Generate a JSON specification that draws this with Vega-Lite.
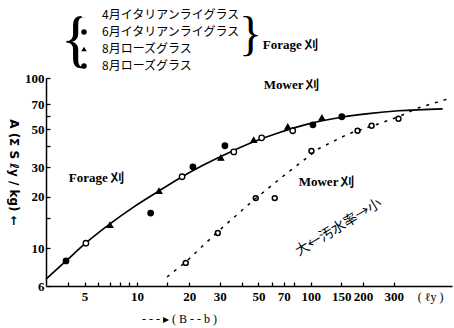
{
  "$schema": "https://vega.github.io/schema/vega-lite/v6.json",
  "width": 406,
  "height": 208,
  "autosize": {"type": "none"},
  "padding": {"left": 46, "top": 78, "right": 2, "bottom": 42},
  "background": "white",
  "config": {"view": {"stroke": null}},
  "datasets": {
    "points": [
      {"x": 3.91, "y": 8.42, "series": "6月イタリアンライグラス", "cut": "Forage"},
      {"x": 5.09, "y": 10.7, "series": "4月イタリアンライグラス", "cut": "Forage"},
      {"x": 7.0, "y": 13.7, "series": "8月ローズグラス", "cut": "Forage"},
      {"x": 12.0, "y": 16.1, "series": "6月イタリアンライグラス", "cut": "Forage"},
      {"x": 13.4, "y": 21.7, "series": "8月ローズグラス", "cut": "Forage"},
      {"x": 18.2, "y": 26.3, "series": "4月イタリアンライグラス", "cut": "Forage"},
      {"x": 21.0, "y": 30.1, "series": "6月イタリアンライグラス", "cut": "Forage"},
      {"x": 30.4, "y": 34.0, "series": "8月ローズグラス", "cut": "Forage"},
      {"x": 32.1, "y": 40.0, "series": "6月イタリアンライグラス", "cut": "Forage"},
      {"x": 36.1, "y": 36.8, "series": "4月イタリアンライグラス", "cut": "Forage"},
      {"x": 47.0, "y": 43.3, "series": "8月ローズグラス", "cut": "Forage"},
      {"x": 52.2, "y": 44.5, "series": "4月イタリアンライグラス", "cut": "Forage"},
      {"x": 73.8, "y": 51.7, "series": "8月ローズグラス", "cut": "Forage"},
      {"x": 78.8, "y": 49.0, "series": "4月イタリアンライグラス", "cut": "Forage"},
      {"x": 103, "y": 53.1, "series": "6月イタリアンライグラス", "cut": "Forage"},
      {"x": 116, "y": 58.4, "series": "8月ローズグラス", "cut": "Forage"},
      {"x": 151, "y": 59.2, "series": "6月イタリアンライグラス", "cut": "Forage"},
      {"x": 19.1, "y": 8.2, "series": "8月ローズグラス (Mower)", "cut": "Mower"},
      {"x": 29.2, "y": 12.3, "series": "8月ローズグラス (Mower)", "cut": "Mower"},
      {"x": 48.3, "y": 19.7, "series": "8月ローズグラス (Mower)", "cut": "Mower"},
      {"x": 62.1, "y": 19.7, "series": "8月ローズグラス (Mower)", "cut": "Mower"},
      {"x": 101, "y": 37.3, "series": "8月ローズグラス (Mower)", "cut": "Mower"},
      {"x": 186, "y": 49.0, "series": "8月ローズグラス (Mower)", "cut": "Mower"},
      {"x": 224, "y": 52.4, "series": "8月ローズグラス (Mower)", "cut": "Mower"},
      {"x": 320, "y": 57.6, "series": "8月ローズグラス (Mower)", "cut": "Mower"}
    ],
    "curves": [
      {"x": 3.0, "y": 6.59, "curve": "Forage"},
      {"x": 3.91, "y": 8.42, "curve": "Forage"},
      {"x": 5.09, "y": 10.74, "curve": "Forage"},
      {"x": 7.0, "y": 13.9, "curve": "Forage"},
      {"x": 9.61, "y": 17.5, "curve": "Forage"},
      {"x": 13.4, "y": 21.7, "curve": "Forage"},
      {"x": 18.2, "y": 26.3, "curve": "Forage"},
      {"x": 24.3, "y": 30.9, "curve": "Forage"},
      {"x": 33.8, "y": 36.4, "curve": "Forage"},
      {"x": 47.0, "y": 42.2, "curve": "Forage"},
      {"x": 65.5, "y": 47.7, "curve": "Forage"},
      {"x": 97.4, "y": 53.8, "curve": "Forage"},
      {"x": 145, "y": 58.4, "curve": "Forage"},
      {"x": 215, "y": 61.7, "curve": "Forage"},
      {"x": 320, "y": 64.2, "curve": "Forage"},
      {"x": 574, "y": 65.9, "curve": "Forage"},
      {"x": 14.9, "y": 6.78, "curve": "Mower"},
      {"x": 19.1, "y": 8.3, "curve": "Mower"},
      {"x": 29.2, "y": 12.5, "curve": "Mower"},
      {"x": 47.0, "y": 19.2, "curve": "Mower"},
      {"x": 74.6, "y": 28.1, "curve": "Mower"},
      {"x": 111, "y": 38.4, "curve": "Mower"},
      {"x": 165, "y": 47.0, "curve": "Mower"},
      {"x": 246, "y": 53.8, "curve": "Mower"},
      {"x": 320, "y": 59.2, "curve": "Mower"},
      {"x": 418, "y": 66.9, "curve": "Mower"},
      {"x": 650, "y": 76.6, "curve": "Mower"}
    ],
    "labels": [
      {"x": 4.06, "y": 25.9, "text": "Forage  刈"},
      {"x": 53.7, "y": 91.2, "text": "Mower  刈"},
      {"x": 85.3, "y": 24.5, "text": "Mower  刈"},
      {"x": 53.0, "y": 157, "text": "Forage  刈"}
    ]
  },
  "encoding": {
    "x": {
      "field": "x", "type": "quantitative",
      "scale": {"type": "log", "domain": [3, 650], "nice": false},
      "axis": {
        "values": [4, 5, 6, 7, 8, 9, 10, 15, 20, 30, 40, 50, 60, 70, 80, 100, 150, 200, 300],
        "labelExpr": "indexof([5,10,20,30,50,70,100,150,200,300], datum.value) >= 0 ? datum.label : ''",
        "format": "d",
        "grid": false,
        "domainColor": "black", "domainWidth": 1.5,
        "tickColor": "black", "tickSize": -4, "tickWidth": 1.3,
        "labelFont": "Liberation Serif", "labelFontWeight": "bold", "labelFontSize": 13,
        "labelColor": "black", "labelPadding": 8, "labelFlush": false, "labelOverlap": false,
        "title": "- - - ▸      ( B - - b )",
        "titleFont": "Liberation Serif", "titleFontWeight": "normal", "titleFontSize": 12,
        "titleColor": "black", "titleX": 133, "titleY": 32, "titleAnchor": "middle", "titleBaseline": "middle"
      }
    },
    "y": {
      "field": "y", "type": "quantitative",
      "scale": {"type": "log", "domain": [6, 100], "nice": false},
      "axis": {
        "values": [6, 10, 15, 20, 30, 40, 50, 60, 70, 100],
        "labelExpr": "indexof([6,10,20,30,50,70,100], datum.value) >= 0 ? datum.label : ''",
        "format": "d",
        "grid": false,
        "domainColor": "black", "domainWidth": 1.5,
        "tickColor": "black", "tickSize": -4, "tickWidth": 1.3,
        "labelFont": "Liberation Serif", "labelFontWeight": "bold", "labelFontSize": 13,
        "labelColor": "black", "labelPadding": 6, "labelFlush": false, "labelOverlap": false,
        "title": "A  (Σ S ℓy / kg)    ←",
        "titleFont": "DejaVu Sans", "titleFontWeight": "bold", "titleFontSize": 12,
        "titleColor": "black", "titleAngle": 90, "titleX": -33, "titleY": 94,
        "titleAlign": "center", "titleBaseline": "middle"
      }
    }
  },
  "layer": [
    {
      "data": {"name": "curves"},
      "transform": [{"filter": "datum.curve === 'Forage'"}],
      "mark": {"type": "line", "color": "black", "strokeWidth": 1.7, "interpolate": "monotone"}
    },
    {
      "data": {"name": "curves"},
      "transform": [{"filter": "datum.curve === 'Mower'"}],
      "mark": {"type": "line", "color": "black", "strokeWidth": 1.5, "strokeDash": [3, 6], "clip": false}
    },
    {
      "data": {"name": "points"},
      "transform": [{"filter": "datum.cut === 'Forage'"}],
      "mark": {"type": "point", "filled": true, "stroke": "black", "strokeWidth": 1.3, "size": 30, "opacity": 1},
      "encoding": {
        "shape": {
          "field": "series", "type": "nominal",
          "scale": {
            "domain": ["4月イタリアンライグラス", "6月イタリアンライグラス", "8月ローズグラス", "8月ローズグラス (Mower)"],
            "range": ["circle", "circle", "triangle-up", "circle"]
          },
          "legend": {
            "orient": "none", "legendX": 32, "legendY": -69, "title": null,
            "labelFont": "Noto Sans CJK JP", "labelFontSize": 12, "labelColor": "black",
            "labelExpr": "replace(datum.label, ' (Mower)', '')",
            "labelOffset": 12, "rowPadding": 5, "padding": 0,
            "symbolSize": 30, "symbolStrokeColor": "black", "symbolStrokeWidth": 1.3
          }
        },
        "fill": {
          "field": "series", "type": "nominal",
          "scale": {
            "domain": ["4月イタリアンライグラス", "6月イタリアンライグラス", "8月ローズグラス", "8月ローズグラス (Mower)"],
            "range": ["white", "black", "black", "black"]
          }
        }
      }
    },
    {
      "data": {"name": "points"},
      "transform": [{"filter": "datum.cut === 'Mower'"}],
      "mark": {"type": "point", "shape": "circle", "filled": false, "stroke": "black", "strokeWidth": 1.5, "size": 24, "opacity": 1}
    },
    {
      "data": {"name": "labels"},
      "mark": {"type": "text", "align": "left", "baseline": "middle", "font": "Liberation Serif", "fontWeight": "bold", "fontSize": 13, "color": "black"},
      "encoding": {"text": {"field": "text"}}
    },
    {
      "data": {"values": [{"x": 4.45, "y": 165, "text": "{"}]},
      "mark": {"type": "text", "align": "center", "baseline": "middle", "font": "Liberation Serif", "fontSize": 64, "color": "black"},
      "encoding": {"text": {"field": "text"}}
    },
    {
      "data": {"values": [{"x": 45.0, "y": 176, "text": "}"}]},
      "mark": {"type": "text", "align": "center", "baseline": "middle", "font": "Liberation Serif", "fontSize": 48, "color": "black"},
      "encoding": {"text": {"field": "text"}}
    },
    {
      "data": {"values": [{"x": 145, "y": 13.2, "text": "大←汚水率→小"}]},
      "mark": {"type": "text", "align": "center", "baseline": "middle", "font": "Noto Sans CJK JP", "fontSize": 14, "angle": -31, "color": "black"},
      "encoding": {"text": {"field": "text"}}
    },
    {
      "data": {"values": [{"x": 490, "y": 5.17, "text": "( ℓy )"}]},
      "mark": {"type": "text", "align": "center", "baseline": "middle", "font": "Liberation Serif", "fontSize": 12, "color": "black"},
      "encoding": {"text": {"field": "text"}}
    }
  ]
}
